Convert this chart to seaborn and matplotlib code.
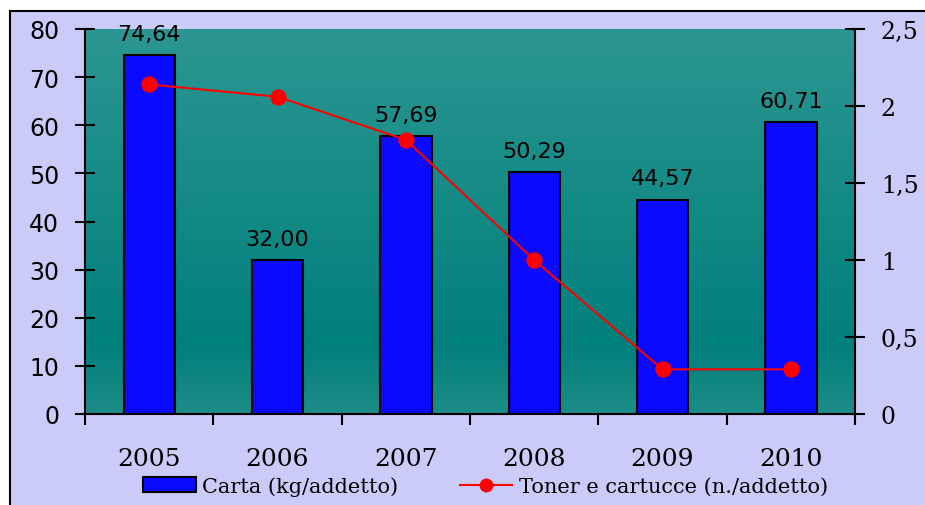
import matplotlib
matplotlib.use('Agg')
import matplotlib.pyplot as plt
import matplotlib.patches as mpatches
from matplotlib.lines import Line2D
from matplotlib.ticker import FuncFormatter, FixedLocator
import numpy as np
import seaborn as sns

# data
years = ['2005', '2006', '2007', '2008', '2009', '2010']
carta = [74.64, 32.00, 57.69, 50.29, 44.57, 60.71]
toner = [2.14, 2.06, 1.78, 1.00, 0.29, 0.29]

fig = plt.figure(figsize=(9.25, 5.06), dpi=100)

# lavender frame behind the chart
frame = mpatches.Rectangle((10 / 925, -0.01), 1.0, 1 - 12 / 506 + 0.01,
                           transform=fig.transFigure, facecolor='#cbcbf9',
                           edgecolor='black', linewidth=1.5, zorder=-1)
fig.patches.append(frame)

ax = fig.add_axes([85 / 925, 1 - 415 / 506, 770 / 925, 385 / 506])
ax.patch.set_visible(False)

# teal vertical gradient in plot area
stops = np.array([[0.0, 44, 150, 146],
                  [0.82, 0, 128, 124],
                  [1.0, 30, 140, 136]])
t = np.linspace(0, 1, 256)
grad = np.stack([np.interp(t, stops[:, 0], stops[:, i]) for i in (1, 2, 3)], axis=1) / 255
ax.imshow(grad[:, None, :], extent=[0, 1, 0, 1], transform=ax.transAxes,
          aspect='auto', zorder=0)

sns.barplot(x=years, y=carta, ax=ax, color='#0a0aff', saturation=1,
            edgecolor='black', linewidth=1.5, width=0.4, zorder=2)

labels = [f"{v:.2f}".replace('.', ',') for v in carta]
ax.bar_label(ax.containers[0], labels=labels, padding=8, fontsize=16,
             family='DejaVu Sans')

ax.set_xlim(-0.5, 5.5)
ax.set_ylim(0, 80)
ax.set_yticks(range(0, 81, 10))
ax.tick_params(axis='y', direction='inout', length=15, width=1.5,
               labelsize=17, pad=11)
ax.tick_params(axis='x', which='major', length=0, pad=24, labelsize=18)
for lab in ax.get_xticklabels():
    lab.set_family('DejaVu Serif')
ax.xaxis.set_minor_locator(FixedLocator(np.arange(-0.5, 6, 1)))
ax.tick_params(axis='x', which='minor', direction='out', length=8, width=1.5)
ax.set_xlabel('')
ax.spines['top'].set_visible(False)
ax.spines['right'].set_visible(False)
for s in ('left', 'bottom'):
    ax.spines[s].set_linewidth(1.5)

ax2 = ax.twinx()
sns.lineplot(x=np.arange(len(years)), y=toner, ax=ax2, color='red',
             marker='o', markersize=11, markeredgecolor='red', linewidth=1.5)
ax2.set_ylim(0, 2.5)
ax2.set_yticks(np.arange(0, 2.51, 0.5))
ax2.yaxis.set_major_formatter(FuncFormatter(lambda v, p: f"{v:g}".replace('.', ',')))
ax2.tick_params(axis='y', direction='inout', length=15, width=1.5,
                labelsize=17, pad=11)
for lab in ax2.get_yticklabels():
    lab.set_family('DejaVu Serif')
ax2.spines['top'].set_visible(False)
ax2.spines['left'].set_visible(False)
ax2.spines['bottom'].set_visible(False)
ax2.spines['right'].set_linewidth(1.5)
ax.set_xlim(-0.5, 5.5)

handles = [mpatches.Patch(facecolor='#0a0aff', edgecolor='black', linewidth=1.5),
           Line2D([], [], color='red', marker='o', markersize=9, linewidth=1.5)]
fig.legend(handles, ['Carta (kg/addetto)', 'Toner e cartucce (n./addetto)'],
           loc='center', bbox_to_anchor=(0.525, 1 - 487 / 506), ncol=2,
           frameon=False, prop={'family': 'DejaVu Serif', 'size': 15},
           handlelength=2.5, handletextpad=0.3, columnspacing=3.0,
           borderpad=0, borderaxespad=0)

fig.savefig('out.png', dpi=100)
